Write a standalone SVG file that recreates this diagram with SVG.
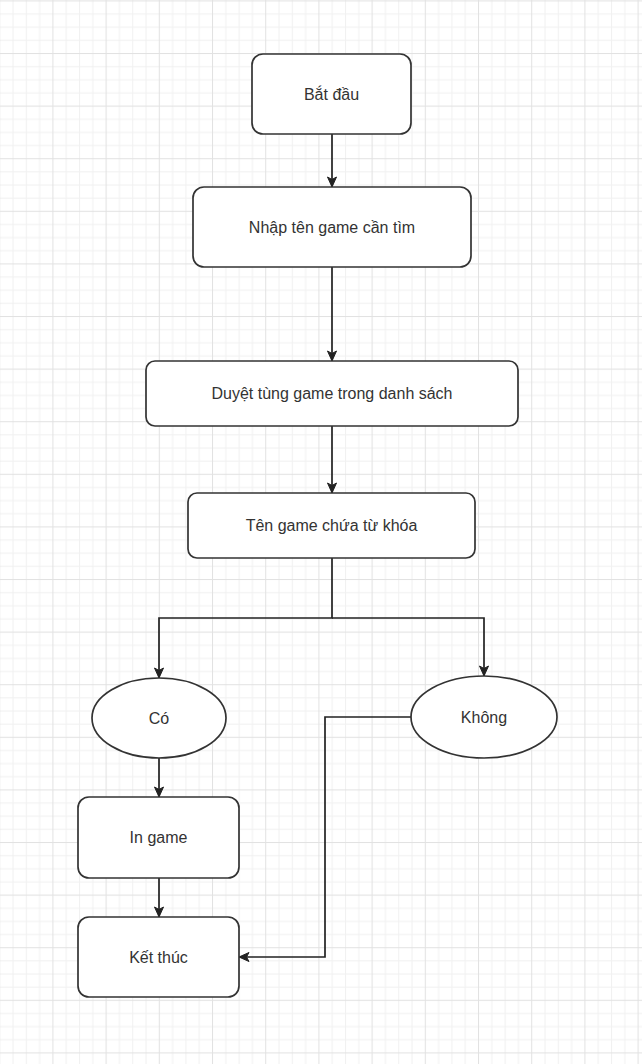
<svg xmlns="http://www.w3.org/2000/svg" width="642" height="1064" viewBox="0 0 642 1064">
  <defs>
    <pattern id="grid" patternUnits="userSpaceOnUse" x="52.4" y="53" width="53.2" height="52.6">
      <rect x="0" y="0" width="53.2" height="52.6" fill="#ffffff"/>
      <g fill="#f1f1f1">
        <rect x="13.3" y="0" width="1" height="52.6"/>
        <rect x="26.6" y="0" width="1" height="52.6"/>
        <rect x="39.9" y="0" width="1" height="52.6"/>
        <rect x="0" y="13.15" width="53.2" height="1"/>
        <rect x="0" y="26.3" width="53.2" height="1"/>
        <rect x="0" y="39.45" width="53.2" height="1"/>
      </g>
      <g fill="#e2e2e2">
        <rect x="0" y="0" width="1" height="52.6"/>
        <rect x="0" y="0" width="53.2" height="1"/>
      </g>
    </pattern>
    <marker id="arrow" markerUnits="userSpaceOnUse" markerWidth="12" markerHeight="12" viewBox="0 0 12 12" refX="11" refY="6" orient="auto">
      <path d="M1,1.5 L11,6 L1,10.5 L3.5,6 Z" fill="#222222" stroke="#222222" stroke-width="1" stroke-linejoin="miter"/>
    </marker>
    <style>
      .box { fill: #ffffff; stroke: #333333; stroke-width: 1.7; }
      .lbl { font-family: "Liberation Sans", Arial, sans-serif; font-size: 16px; fill: #333333; text-anchor: middle; }
      .edge { fill: none; stroke: #222222; stroke-width: 1.7; marker-end: url(#arrow); }
    </style>
  </defs>

  <rect x="0" y="0" width="642" height="1064" fill="url(#grid)"/>

  <g id="connectors">
    <path class="edge" d="M332,134 V187"/>
    <path class="edge" d="M332,267 V361"/>
    <path class="edge" d="M332,426 V493"/>
    <path class="edge" d="M332,558 V618 H159 V678"/>
    <path class="edge" d="M332,618 H484 V676"/>
    <path class="edge" d="M159,758 V797"/>
    <path class="edge" d="M159,878 V917"/>
    <path class="edge" d="M411,717 H325 V957 H239"/>
  </g>

  <g id="start">
    <rect class="box" x="252" y="54" width="159" height="80" rx="11"/>
    <text class="lbl" x="331.5" y="100">Bắt đầu</text>
  </g>
  <g id="input">
    <rect class="box" x="193" y="187" width="278" height="80" rx="11"/>
    <text class="lbl" x="332" y="233">Nhập tên game cần tìm</text>
  </g>
  <g id="loop">
    <rect class="box" x="146" y="361" width="372" height="65" rx="9"/>
    <text class="lbl" x="332" y="399">Duyệt tùng game trong danh sách</text>
  </g>
  <g id="check">
    <rect class="box" x="188" y="493" width="287" height="65" rx="9"/>
    <text class="lbl" x="331.5" y="531">Tên game chứa từ khóa</text>
  </g>
  <g id="yes">
    <ellipse class="box" cx="159" cy="718" rx="67" ry="40"/>
    <text class="lbl" x="159" y="724">Có</text>
  </g>
  <g id="no">
    <ellipse class="box" cx="484" cy="717" rx="73" ry="41"/>
    <text class="lbl" x="484" y="723">Không</text>
  </g>
  <g id="print">
    <rect class="box" x="78" y="797" width="161" height="81" rx="11"/>
    <text class="lbl" x="158.5" y="843">In game</text>
  </g>
  <g id="end">
    <rect class="box" x="78" y="917" width="161" height="80" rx="11"/>
    <text class="lbl" x="158.5" y="963">Kết thúc</text>
  </g>
</svg>
